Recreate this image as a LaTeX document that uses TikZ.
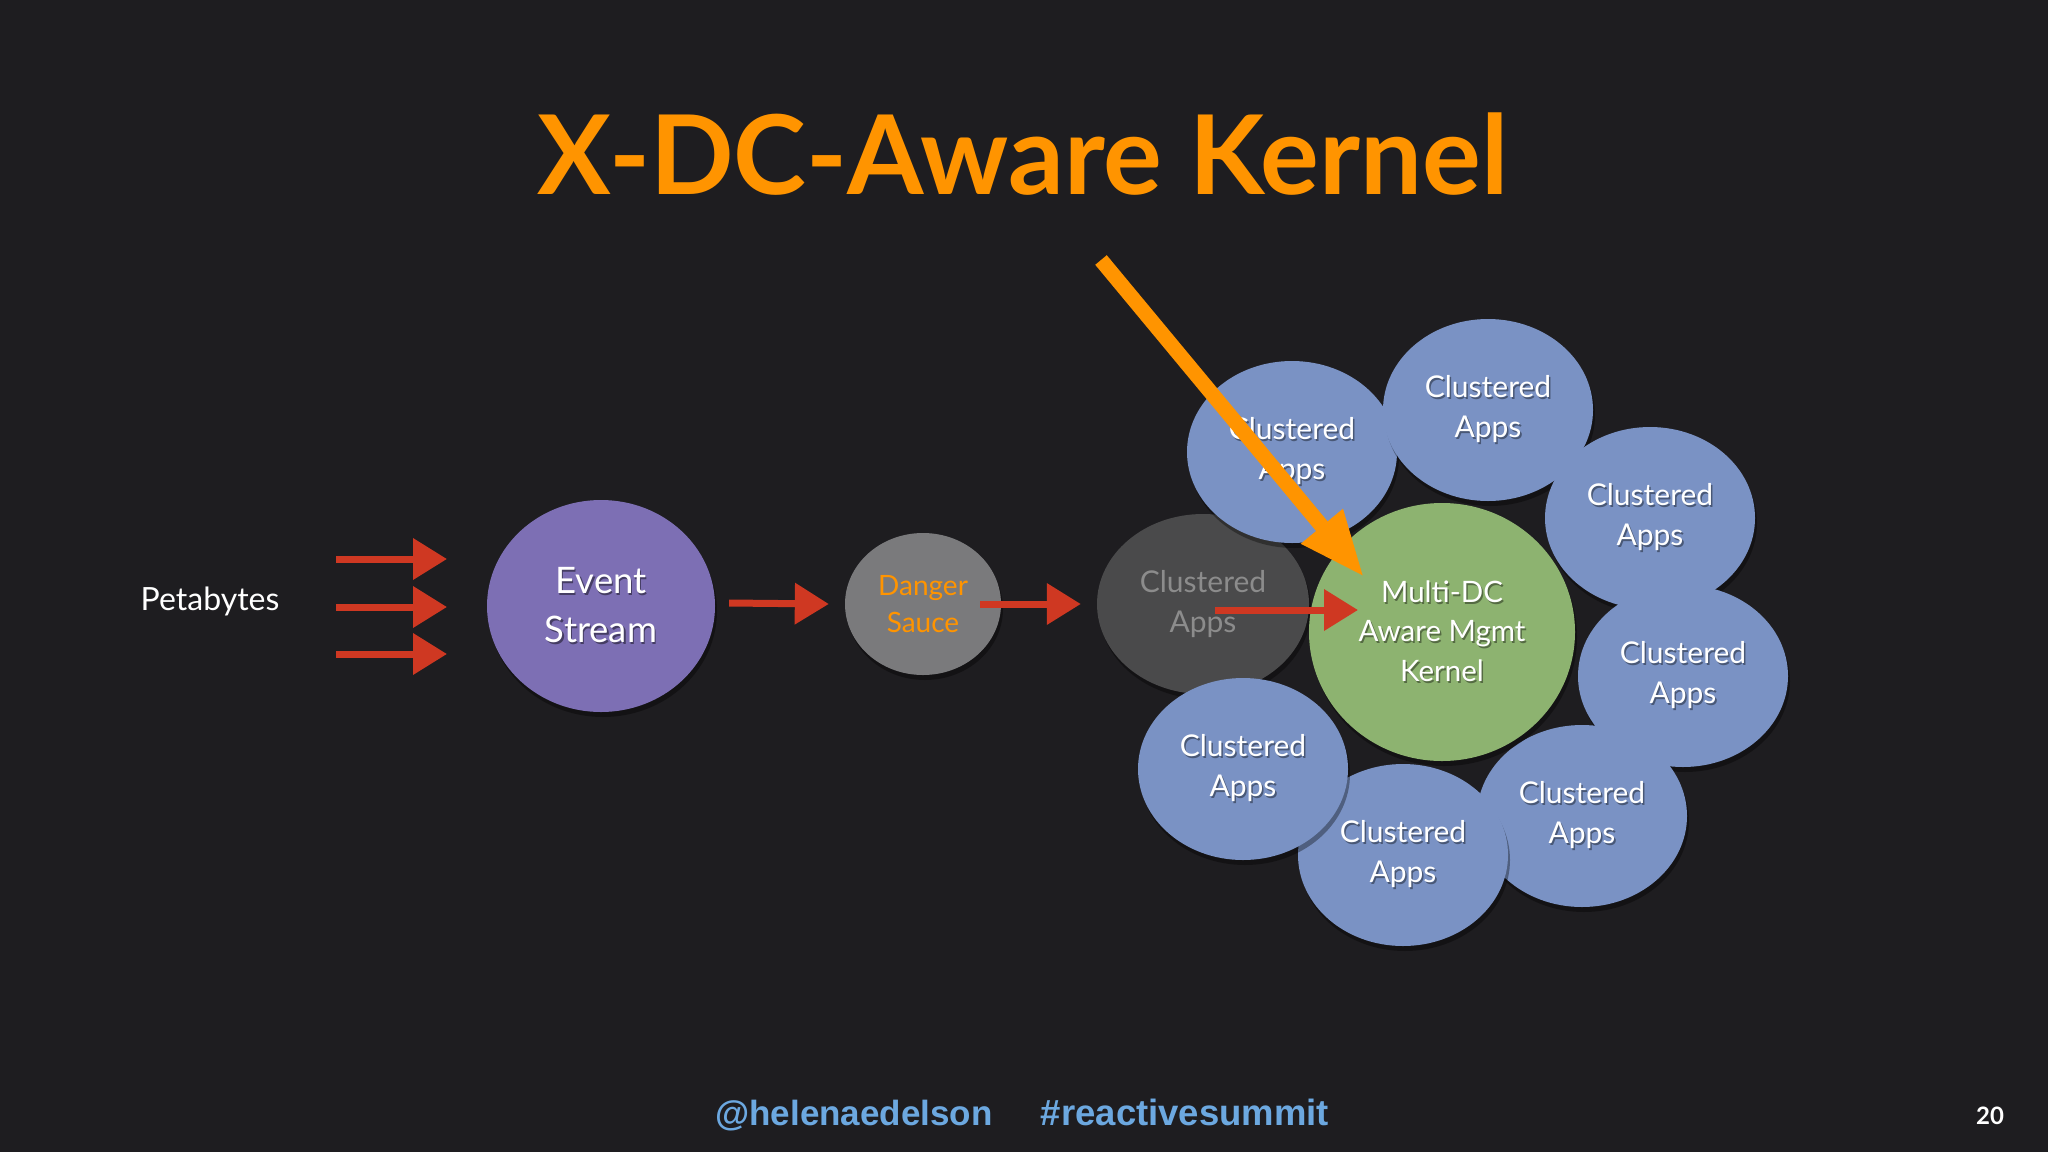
\documentclass[tikz,border=0pt]{standalone}
\usepackage{fontspec}
\setmainfont{Lato}
\newfontfamily\footfont{Liberation Sans}
\usetikzlibrary{shapes.geometric,arrows.meta,shadows,calc}
\definecolor{cbg}{RGB}{30,29,32}
\definecolor{corange}{RGB}{255,148,0}
\definecolor{cred}{RGB}{207,56,34}
\definecolor{cpurple}{RGB}{125,111,180}
\definecolor{cdanger}{RGB}{122,122,124}
\definecolor{cgray}{RGB}{74,74,75}
\definecolor{cgraytext}{RGB}{140,140,140}
\definecolor{cblue}{RGB}{122,146,196}
\definecolor{cgreen}{RGB}{141,179,112}
\definecolor{cfoot}{RGB}{108,168,224}
\newcommand\shd[2]{\leavevmode\rlap{\kern1.5pt\raisebox{-2pt}{\textcolor{#1}{#2}}}#2}
\tikzset{
  bubble/.style={ellipse, inner sep=0pt, align=center,
    drop shadow={fill=black, opacity=0.35, shadow xshift=2pt, shadow yshift=-5pt}},
  blueapp/.style={bubble, fill=cblue, minimum width=210pt, minimum height=182pt,
    text=white, font=\fontsize{30}{40.5}\selectfont},
  redarr/.style={draw=cred, line width=7pt, -{Triangle[length=34pt,width=40pt]}},
  orangearr/.style={draw=corange, line width=15pt, -{Triangle[length=66pt,width=50pt]}},
}
\begin{document}
\begin{tikzpicture}[x=1pt,y=-1pt]
\fill[cbg] (0,0) rectangle (2048,1152);
\useasboundingbox (0,0) rectangle (2048,1152);

% title
\node (title) [anchor=base, text=corange, font=\fontsize{110}{120}\selectfont\bfseries] at (1023,194) {X-DC-Aware Kernel};

% left part
\node (peta) [text=white, font=\fontsize{32}{38}\selectfont] at (210,601) {Petabytes};
\coordinate (a1s) at (336,559); \coordinate (a1e) at (447,559);
\coordinate (a2s) at (336,607); \coordinate (a2e) at (447,607);
\coordinate (a3s) at (336,654); \coordinate (a3e) at (447,654);
\draw[redarr] (a1s) -- (a1e);
\draw[redarr] (a2s) -- (a2e);
\draw[redarr] (a3s) -- (a3e);

\node (es) [bubble, fill=cpurple, minimum width=228pt, minimum height=212pt, text=white,
  font=\fontsize{36.5}{49}\selectfont] at (601,606)
  {\shd{black!45!cpurple}{Event}\\\shd{black!45!cpurple}{Stream}};
\node (ds) [bubble, fill=cdanger, minimum width=156pt, minimum height=142pt, text=corange,
  font=\fontsize{28}{37}\selectfont] at (923,604) {Danger\\Sauce};

% cluster
\node (gr) [bubble, fill=cgray, minimum width=212pt, minimum height=180pt, text=cgraytext,
  font=\fontsize{30}{40}\selectfont] at (1203,604) {Clustered\\Apps};
\node (b1) [blueapp] at (1292,452) {\shd{black!40!cblue}{Clustered}\\\shd{black!40!cblue}{Apps}};
\node (b2) [blueapp] at (1488,410) {\shd{black!40!cblue}{Clustered}\\\shd{black!40!cblue}{Apps}};
\node (b3) [blueapp] at (1650,518) {\shd{black!40!cblue}{Clustered}\\\shd{black!40!cblue}{Apps}};
\node (b4) [blueapp] at (1683,676) {\shd{black!40!cblue}{Clustered}\\\shd{black!40!cblue}{Apps}};
\node (b5) [blueapp] at (1582,816) {\shd{black!40!cblue}{Clustered}\\\shd{black!40!cblue}{Apps}};
\node (b6) [blueapp] at (1403,855) {\shd{black!40!cblue}{Clustered}\\\shd{black!40!cblue}{Apps}};
\node (b7) [blueapp] at (1243,769) {\shd{black!40!cblue}{Clustered}\\\shd{black!40!cblue}{Apps}};
\node (gn) [bubble, fill=cgreen, minimum width=266pt, minimum height=258pt, text=white,
  font=\fontsize{29.5}{39.5}\selectfont] at (1442,632)
  {\shd{black!40!cgreen}{Multi-DC}\\\shd{black!40!cgreen}{Aware Mgmt}\\\shd{black!40!cgreen}{Kernel}};

% connectors
\draw[redarr] ($(es.east)+(14,-3)$) -- ($(ds.west)+(-16,0)$);
\draw[redarr] ($(ds.east)+(-21,0)$) -- ($(gr.west)+(-16,0)$);
\coordinate (gtip) at (1358,610);
\draw[redarr] ($(gr.center)+(12,6)$) -- (gtip);
\coordinate (otail) at (1101,260);
\coordinate (otip) at (1364,577);
\draw[orangearr] (otail) -- (otip);

% footer
\node (fh) [anchor=base, text=cfoot, font=\footfont\bfseries\fontsize{35}{40}\selectfont] at (854,1125) {@helenaedelson};
\node (fr) [anchor=base, text=cfoot, font=\footfont\bfseries\fontsize{36.5}{40}\selectfont] at (1185,1125) {\#reactivesummit};
\node (pg) [anchor=base, text=white, font=\bfseries\fontsize{24}{28}\selectfont] at (1990,1124) {20};
\end{tikzpicture}
\end{document}
